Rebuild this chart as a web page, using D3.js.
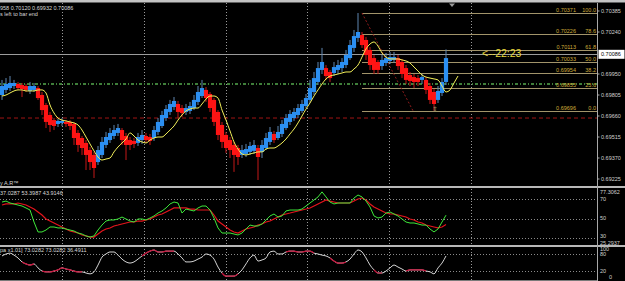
<!doctype html>
<html>
<head>
<meta charset="utf-8">
<title>Heiken Ashi chart</title>
<script src="https://cdn.jsdelivr.net/npm/d3@7"></script>
<style>
  html, body { margin: 0; padding: 0; background: #000; overflow: hidden; }
  svg { display: block; font-family: "Liberation Sans", Arial, sans-serif; }
</style>
</head>
<body>
<div id="chart"></div>
<script>
// heiken ashi bars, one per index
var open = [0.69805,0.69840,0.69853,0.69867,0.69881,0.69874,0.69867,0.69833,0.69840,0.69853,
  0.69805,0.69736,0.69667,0.69632,0.69605,0.69612,0.69619,0.69619,0.69605,0.69543,
  0.69508,0.69474,0.69425,0.69391,0.69342,0.69391,0.69460,0.69494,0.69522,0.69543,
  0.69563,0.69522,0.69494,0.69488,0.69474,0.69494,0.69522,0.69515,0.69508,0.69550,
  0.69591,0.69646,0.69688,0.69722,0.69743,0.69715,0.69688,0.69695,0.69715,0.69757,
  0.69798,0.69840,0.69812,0.69771,0.69688,0.69598,0.69529,0.69494,0.69460,0.69439,
  0.69391,0.69398,0.69412,0.69419,0.69439,0.69412,0.69439,0.69481,0.69536,0.69508,
  0.69536,0.69577,0.69619,0.69646,0.69667,0.69695,0.69729,0.69771,0.69826,0.69895,
  0.69978,0.69991,0.69964,0.69957,0.69978,0.69991,0.70012,0.70060,0.70130,0.70199,
  0.70219,0.70185,0.70116,0.70060,0.70033,0.70005,0.70026,0.70040,0.70047,0.70060,
  0.70033,0.69991,0.69943,0.69929,0.69922,0.69909,0.69909,0.69867,0.69826,0.69771,
  0.69819,0.69895];
var close = [0.69867,0.69881,0.69888,0.69888,0.69853,0.69846,0.69840,0.69867,0.69867,0.69784,
  0.69701,0.69619,0.69598,0.69591,0.69626,0.69626,0.69605,0.69591,0.69508,0.69460,
  0.69439,0.69391,0.69342,0.69301,0.69425,0.69481,0.69515,0.69543,0.69563,0.69577,
  0.69494,0.69460,0.69460,0.69467,0.69515,0.69529,0.69494,0.69488,0.69563,0.69619,
  0.69667,0.69708,0.69743,0.69764,0.69688,0.69681,0.69715,0.69729,0.69771,0.69826,
  0.69853,0.69784,0.69715,0.69619,0.69529,0.69481,0.69439,0.69425,0.69391,0.69377,
  0.69425,0.69432,0.69453,0.69460,0.69377,0.69460,0.69508,0.69550,0.69494,0.69550,
  0.69605,0.69646,0.69674,0.69688,0.69715,0.69743,0.69784,0.69853,0.69922,0.69991,
  0.70033,0.69936,0.69922,0.69998,0.70012,0.70033,0.70081,0.70150,0.70212,0.70240,
  0.70150,0.70081,0.70012,0.69978,0.69978,0.70047,0.70060,0.70067,0.70067,0.70005,
  0.69950,0.69909,0.69902,0.69895,0.69895,0.69929,0.69840,0.69771,0.69743,0.69833,
  0.69895,0.70060];
var high = [0.69909,0.69922,0.69936,0.69909,0.69895,0.69888,0.69881,0.69895,0.69888,0.69867,
  0.69826,0.69750,0.69688,0.69646,0.69639,0.69646,0.69632,0.69632,0.69619,0.69563,
  0.69522,0.69494,0.69446,0.69412,0.69453,0.69515,0.69550,0.69577,0.69598,0.69605,
  0.69577,0.69543,0.69515,0.69508,0.69543,0.69563,0.69543,0.69536,0.69591,0.69646,
  0.69695,0.69736,0.69771,0.69791,0.69764,0.69736,0.69743,0.69757,0.69805,0.69867,
  0.69909,0.69860,0.69826,0.69784,0.69701,0.69619,0.69550,0.69515,0.69481,0.69460,
  0.69460,0.69467,0.69481,0.69494,0.69460,0.69494,0.69543,0.69584,0.69557,0.69591,
  0.69632,0.69674,0.69701,0.69715,0.69743,0.69771,0.69812,0.69909,0.69964,0.70033,
  0.70130,0.70012,0.69978,0.70033,0.70047,0.70060,0.70116,0.70185,0.70254,0.70371,
  0.70240,0.70206,0.70136,0.70081,0.70047,0.70081,0.70095,0.70102,0.70102,0.70081,
  0.70054,0.70012,0.69964,0.69950,0.69943,0.69950,0.69929,0.69888,0.69846,0.69867,
  0.69922,0.70120];
var low = [0.69771,0.69819,0.69833,0.69846,0.69840,0.69791,0.69826,0.69812,0.69826,0.69771,
  0.69667,0.69577,0.69550,0.69563,0.69584,0.69591,0.69584,0.69563,0.69460,0.69412,
  0.69391,0.69287,0.69287,0.69232,0.69322,0.69370,0.69439,0.69474,0.69501,0.69522,
  0.69460,0.69356,0.69425,0.69439,0.69453,0.69467,0.69474,0.69460,0.69488,0.69529,
  0.69577,0.69626,0.69667,0.69701,0.69646,0.69653,0.69667,0.69674,0.69701,0.69736,
  0.69784,0.69757,0.69688,0.69591,0.69494,0.69439,0.69405,0.69370,0.69274,0.69322,
  0.69370,0.69377,0.69391,0.69398,0.69218,0.69370,0.69425,0.69460,0.69474,0.69494,
  0.69515,0.69563,0.69598,0.69626,0.69646,0.69681,0.69715,0.69750,0.69805,0.69874,
  0.69950,0.69909,0.69895,0.69936,0.69950,0.69964,0.69991,0.70047,0.70102,0.70171,
  0.70130,0.70047,0.69978,0.69950,0.69950,0.69978,0.70005,0.70019,0.70026,0.69978,
  0.69922,0.69881,0.69867,0.69853,0.69867,0.69881,0.69812,0.69743,0.69696,0.69750,
  0.69798,0.69874];

// yellow moving average (shifted 3 bars past the last bar)
var maLine = [0.69798,0.69805,0.69819,0.69833,0.69840,0.69840,0.69833,0.69833,0.69833,0.69840,
  0.69840,0.69819,0.69736,0.69681,0.69646,0.69632,0.69626,0.69619,0.69612,0.69598,
  0.69563,0.69515,0.69467,0.69419,0.69377,0.69356,0.69363,0.69370,0.69412,0.69446,
  0.69474,0.69501,0.69543,0.69522,0.69494,0.69481,0.69474,0.69494,0.69508,0.69515,
  0.69515,0.69536,0.69563,0.69591,0.69632,0.69667,0.69695,0.69708,0.69715,0.69715,
  0.69743,0.69777,0.69798,0.69798,0.69784,0.69701,0.69632,0.69557,0.69481,0.69432,
  0.69398,0.69391,0.69398,0.69405,0.69412,0.69412,0.69432,0.69439,0.69439,0.69453,
  0.69474,0.69501,0.69536,0.69570,0.69612,0.69660,0.69708,0.69750,0.69798,0.69840,
  0.69881,0.69916,0.69936,0.69943,0.69950,0.69957,0.69964,0.69964,0.69985,0.70012,
  0.70067,0.70123,0.70157,0.70171,0.70143,0.70095,0.70067,0.70054,0.70054,0.70054,
  0.70047,0.70040,0.70026,0.69998,0.69971,0.69943,0.69929,0.69922,0.69916,0.69909,
  0.69867,0.69826,0.69840,0.69888,0.69936];

// first sub window: green main line and red signal line
var subMain = [66.9,67.9,65.9,64.9,63.8,62.8,60.8,58.7,46.4,36.2,
  36.2,38.2,41.3,41.3,40.3,40.3,39.2,38.2,37.2,35.1,
  34.1,32.1,31.0,32.1,38.2,43.3,47.4,48.5,48.5,49.5,
  51.5,49.5,47.4,46.4,49.5,49.5,48.5,50.5,52.6,55.6,
  57.7,60.8,64.9,66.9,65.9,55.6,59.7,58.7,57.7,60.8,
  62.8,62.8,58.7,50.5,40.3,35.1,35.1,35.1,34.1,33.1,
  35.1,39.2,43.3,42.3,42.3,44.4,48.5,52.6,54.6,51.5,
  52.6,57.7,58.7,58.7,58.7,59.7,62.8,65.9,69.0,72.1,
  77.3,72.1,66.9,64.9,65.9,65.9,65.9,65.9,71.0,74.1,
  72.1,67.9,61.8,52.6,50.5,51.5,55.6,56.7,54.6,52.6,
  49.5,46.4,45.4,45.4,44.4,43.3,43.3,39.2,36.2,39.2,
  46.4,53.4];
var subSignal = [63.8,64.9,64.9,64.9,65.9,64.9,63.8,61.8,59.7,56.7,
  53.6,49.5,47.4,45.4,43.3,41.3,39.2,37.2,36.2,35.1,
  33.1,32.1,31.0,31.0,34.1,37.2,39.2,40.3,42.3,43.3,
  44.4,45.4,46.4,46.4,47.4,47.4,48.5,49.5,51.5,53.6,
  54.6,56.7,58.7,60.8,60.8,60.8,60.8,59.7,59.7,58.7,
  58.7,58.7,58.7,53.6,47.4,44.4,41.3,38.2,36.2,35.1,
  37.2,39.2,40.3,41.3,43.3,44.4,46.4,47.4,49.5,51.5,
  53.6,54.6,55.6,56.7,57.7,58.7,59.7,60.8,62.8,64.9,
  66.9,69.0,67.9,66.9,65.9,65.9,65.9,65.9,67.9,70.0,
  71.0,69.0,64.9,61.8,59.7,57.7,55.6,54.6,54.6,53.6,
  52.6,51.5,49.5,48.5,46.4,45.4,43.3,42.3,41.3,40.3,
  41.3,43.9];

// second sub window: oscillator 0..100, red where flagged
var oscLine = [73,80,83,76,66,52,45,41,45,31,
  20,17,17,20,24,31,27,24,20,17,
  17,13,10,17,41,69,80,87,87,76,
  62,52,48,52,62,73,83,90,94,87,
  87,90,90,90,80,66,52,52,55,62,
  69,80,76,62,34,13,2,2,2,10,
  24,45,66,76,55,59,66,87,90,80,
  80,87,90,90,87,87,90,90,83,80,
  76,73,66,55,48,48,52,62,80,94,
  87,66,41,24,13,13,20,31,41,34,
  27,20,24,24,24,24,20,17,10,31,
  48,73.03];
var oscRedSpans = [[5, 8], [10, 20], [35, 43], [55, 59], [71, 78], [82, 86], [93, 95], [101, 106]];

// axis labels and objects
var priceTicks = [0.70385, 0.70240, 0.69950, 0.69805, 0.69660, 0.69515, 0.69370, 0.69225];
var bidPrice = 0.70086;
var greenLevel = 0.69881;
var redLevel = 0.69646;
var fibLevels = ["100.0", "78.6", "61.8", "50.0", "38.2", "23.6", "0.0"];
var fibPrices = [0.70371, 0.70226, 0.70113, 0.70033, 0.69954, 0.69855, 0.69696];
var fibFrom = 90, fibTo = 102.75;
var subLevels = [70, 50, 30];
var subExtremes = ["77.3062", "25.2937"];
var oscLevels = [80, 20];
var gridBars = [15, 35.5, 56, 76.25, 96.75, 117.25];

var width = 625, height = 281;
var axisX = 597.5;

var svg = d3.select('#chart').append('svg')
  .attr('width', width)
  .attr('height', height);

svg.append('rect').attr('width', width).attr('height', height).attr('fill', '#000');

var x = d3.scaleLinear().domain([0, 111]).range([2, 446]);
var y = d3.scaleLinear().domain([0.69225, 0.70385]).range([179, 11]);
var ySub = d3.scaleLinear().domain([30, 70]).range([238, 199]);
var yOsc = d3.scaleLinear().domain([0, 100]).range([276.7, 248.3]);

var defs = svg.append('defs');
defs.append('clipPath').attr('id', 'mainClip')
  .append('rect').attr('x', 0).attr('y', 4).attr('width', axisX).attr('height', 182);
defs.append('clipPath').attr('id', 'subClip')
  .append('rect').attr('x', 0).attr('y', 188).attr('width', axisX).attr('height', 57);
defs.append('clipPath').attr('id', 'oscClip')
  .append('rect').attr('x', 0).attr('y', 247).attr('width', axisX).attr('height', 34);

// top strip
svg.append('rect').attr('x', 0).attr('y', 0).attr('width', width).attr('height', 2.5).attr('fill', '#c4c4c4');

// vertical grid
svg.selectAll('line.vgrid')
  .data(gridBars)
  .enter()
  .append('line')
  .attr('class', 'vgrid')
  .attr('x1', function(d) { return Math.round(x(d)) + 0.5; })
  .attr('x2', function(d) { return Math.round(x(d)) + 0.5; })
  .attr('y1', 3)
  .attr('y2', height)
  .attr('stroke', '#9a9a9a')
  .attr('stroke-width', 1)
  .attr('stroke-dasharray', '1,2');

var main = svg.append('g').attr('clip-path', 'url(#mainClip)');

// horizontal levels
main.append('line')
  .attr('x1', 0).attr('x2', axisX)
  .attr('y1', y(redLevel)).attr('y2', y(redLevel))
  .attr('stroke', '#a01414').attr('stroke-width', 1).attr('stroke-dasharray', '4,3');
main.append('line')
  .attr('x1', 0).attr('x2', axisX)
  .attr('y1', y(greenLevel)).attr('y2', y(greenLevel))
  .attr('stroke', '#3f7f3a').attr('stroke-width', 2).attr('stroke-dasharray', '1,2,3,2');
main.append('line')
  .attr('x1', 0).attr('x2', axisX)
  .attr('y1', Math.round(y(bidPrice)) + 0.5).attr('y2', Math.round(y(bidPrice)) + 0.5)
  .attr('stroke', '#9c9c9c').attr('stroke-width', 1);

// fibonacci
main.selectAll('line.fib')
  .data(fibPrices)
  .enter()
  .append('line')
  .attr('class', 'fib')
  .attr('x1', x(fibFrom)).attr('x2', axisX)
  .attr('y1', function(d) { return Math.round(y(d)) + 0.5; })
  .attr('y2', function(d) { return Math.round(y(d)) + 0.5; })
  .attr('stroke', '#a2946a')
  .attr('stroke-width', 1);

main.append('line')
  .attr('x1', x(fibFrom)).attr('y1', y(fibPrices[0]))
  .attr('x2', x(fibTo)).attr('y2', y(fibPrices[6]))
  .attr('stroke', '#8e1c1c').attr('stroke-width', 1).attr('stroke-dasharray', '2,2');

// candles
var bars = d3.range(open.length).map(function(i) {
  return { i: i, o: open[i], h: high[i], l: low[i], c: close[i] };
});
function barColor(d) { return d.c >= d.o ? '#2b8ff2' : '#ff1414'; }
function wickColor(d) { return d.c >= d.o ? '#5f86b0' : '#c41818'; }

main.selectAll('line.wick')
  .data(bars)
  .enter()
  .append('line')
  .attr('class', 'wick')
  .attr('x1', function(d) { return x(d.i); })
  .attr('x2', function(d) { return x(d.i); })
  .attr('y1', function(d) { return y(d.h); })
  .attr('y2', function(d) { return y(d.l); })
  .attr('stroke', wickColor)
  .attr('stroke-width', 1);

main.selectAll('rect.body')
  .data(bars)
  .enter()
  .append('rect')
  .attr('class', 'body')
  .attr('x', function(d) { return x(d.i) - 2.1; })
  .attr('width', 4.2)
  .attr('y', function(d) { return y(Math.max(d.o, d.c)); })
  .attr('height', function(d) { return Math.max(1.5, Math.abs(y(d.o) - y(d.c))); })
  .attr('fill', barColor);

// moving average
main.append('path')
  .datum(maLine)
  .attr('d', d3.line()
    .x(function(d, i) { return x(i); })
    .y(function(d) { return y(d); })
    .curve(d3.curveMonotoneX))
  .attr('fill', 'none')
  .attr('stroke', '#f2ef5a')
  .attr('stroke-width', 1);

// fib labels
var fibG = svg.append('g').attr('font-size', '5.5px').attr('fill', '#d1ac3a');
fibG.selectAll('text.fp')
  .data(fibPrices)
  .enter()
  .append('text')
  .attr('x', 576)
  .attr('y', function(d) { return y(d) - 1; })
  .attr('text-anchor', 'end')
  .text(function(d) { return d.toFixed(5); });
fibG.selectAll('text.fl')
  .data(fibLevels)
  .enter()
  .append('text')
  .attr('x', 596)
  .attr('y', function(d, i) { return y(fibPrices[i]) - 1; })
  .attr('text-anchor', 'end')
  .text(function(d) { return d; });

// low marker and time remaining
svg.append('text')
  .attr('x', x(fibTo + 5.5)).attr('y', y(fibPrices[6]) + 0.5)
  .attr('text-anchor', 'middle')
  .attr('font-family', 'DejaVu Sans')
  .attr('font-size', '6px')
  .attr('fill', '#d8c890')
  .text('⇧');
svg.append('text')
  .attr('x', 482).attr('y', y(bidPrice) + 3)
  .attr('font-size', '10.5px')
  .attr('fill', '#e8d83c')
  .text('<--22:23');

// shift marker
svg.append('path')
  .attr('d', 'M449,3.5 L455,3.5 L452,7 Z')
  .attr('fill', '#9a9a9a');

// titles
var info = svg.append('g').attr('font-size', '5.5px').attr('fill', '#d8d8d8');
info.append('text').attr('x', 0).attr('y', 9.5).text('958 0.70120 0.69932 0.70086');
info.append('text').attr('x', 0).attr('y', 15.7).text('s left to bar end');
info.append('text').attr('x', 0).attr('y', 185).text('y A.R™');
info.append('text').attr('x', 0).attr('y', 195.3).text('37.0287 53.3987 43.9146');
info.append('text').attr('x', 0).attr('y', 252).text('pa x1.01] 73.0282 73.0282 36.4911');

// first sub window
var sub = svg.append('g').attr('clip-path', 'url(#subClip)');
sub.selectAll('line.lvl')
  .data(subLevels)
  .enter()
  .append('line')
  .attr('x1', 0).attr('x2', axisX)
  .attr('y1', function(d) { return Math.round(ySub(d)) + 0.5; })
  .attr('y2', function(d) { return Math.round(ySub(d)) + 0.5; })
  .attr('stroke', '#8a8a8a').attr('stroke-dasharray', '1,2');

var subLine = d3.line()
  .x(function(d, i) { return x(i); })
  .y(function(d) { return ySub(d); });
sub.append('path').datum(subSignal).attr('d', subLine)
  .attr('fill', 'none').attr('stroke', '#e3141c').attr('stroke-width', 1.2);
sub.append('path').datum(subMain).attr('d', subLine)
  .attr('fill', 'none').attr('stroke', '#3ee83a').attr('stroke-width', 1);

// second sub window
var osc = svg.append('g').attr('clip-path', 'url(#oscClip)');
osc.selectAll('line.lvl')
  .data(oscLevels)
  .enter()
  .append('line')
  .attr('x1', 0).attr('x2', axisX)
  .attr('y1', function(d) { return Math.round(yOsc(d)) + 0.5; })
  .attr('y2', function(d) { return Math.round(yOsc(d)) + 0.5; })
  .attr('stroke', '#8a8a8a').attr('stroke-dasharray', '1,2');

var oscPath = d3.line()
  .x(function(d) { return x(d); })
  .y(function(d) { return yOsc(oscLine[d]); })
  .curve(d3.curveMonotoneX);
osc.append('path').datum(d3.range(oscLine.length)).attr('d', oscPath)
  .attr('fill', 'none').attr('stroke', '#d4d4d4').attr('stroke-width', 1);
osc.selectAll('path.red')
  .data(oscRedSpans)
  .enter()
  .append('path')
  .attr('d', function(s) { return oscPath(d3.range(s[0], s[1] + 1)); })
  .attr('fill', 'none').attr('stroke', '#c8143c').attr('stroke-width', 1.2);

// separators
svg.append('rect').attr('x', 0).attr('y', 186).attr('width', width).attr('height', 2).attr('fill', '#b8b8b8');
svg.append('rect').attr('x', 0).attr('y', 245).attr('width', width).attr('height', 2).attr('fill', '#b8b8b8');
svg.append('line').attr('x1', 0).attr('x2', axisX).attr('y1', 280.5).attr('y2', 280.5).attr('stroke', '#7a7a7a');

// right axis
svg.append('line')
  .attr('x1', axisX).attr('x2', axisX).attr('y1', 3).attr('y2', height)
  .attr('stroke', '#a8a8a8');

var ax = svg.append('g').attr('font-size', '5.5px').attr('fill', '#d0d0d0');
ax.selectAll('text.pt')
  .data(priceTicks)
  .enter()
  .append('text')
  .attr('x', 601)
  .attr('y', function(d) { return y(d) + 2; })
  .text(function(d) { return d.toFixed(5); });
ax.selectAll('line.pt')
  .data(priceTicks)
  .enter()
  .append('line')
  .attr('x1', axisX).attr('x2', axisX + 2)
  .attr('y1', function(d) { return y(d); })
  .attr('y2', function(d) { return y(d); })
  .attr('stroke', '#a8a8a8');

svg.append('rect')
  .attr('x', 598.5).attr('y', y(bidPrice) - 4.5)
  .attr('width', 26).attr('height', 9)
  .attr('fill', '#ffffff');
svg.append('text')
  .attr('x', 601).attr('y', y(bidPrice) + 2)
  .attr('font-size', '5.5px').attr('fill', '#000')
  .text(bidPrice.toFixed(5));

// sub window axis labels, nudged apart where they would collide
ax.append('text').attr('x', 600).attr('y', ySub(77.3062) + 2.5).text(subExtremes[0]);
ax.append('text').attr('x', 600).attr('y', 244.6).text(subExtremes[1]);
ax.selectAll('text.sl')
  .data(subLevels)
  .enter()
  .append('text')
  .attr('x', 600)
  .attr('y', function(d) { return d === 30 ? ySub(d) + 0.3 : ySub(d) + 1.5; })
  .text(function(d) { return d; });
ax.append('text').attr('x', 600).attr('y', 250.8).text('100');
ax.selectAll('text.ol')
  .data(oscLevels)
  .enter()
  .append('text')
  .attr('x', 600)
  .attr('y', function(d) { return d === 80 ? 256 : yOsc(d) + 1.5; })
  .text(function(d) { return d; });
ax.append('text').attr('x', 609).attr('y', 279).text('0');
</script>
</body>
</html>
